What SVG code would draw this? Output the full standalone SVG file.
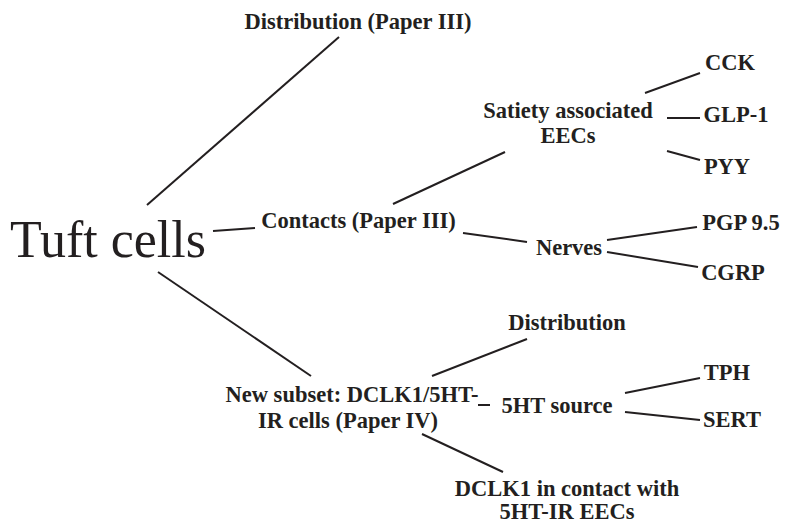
<svg xmlns="http://www.w3.org/2000/svg" width="786" height="525" viewBox="0 0 786 525">
<style>
.t{font-family:"Liberation Serif","Times New Roman",serif;font-weight:bold;font-size:22.5px;fill:#231f20;text-anchor:middle}
.big{font-family:"Liberation Serif","Times New Roman",serif;font-size:52px;fill:#231f20}
.c line{stroke:#231f20;stroke-width:2;stroke-linecap:butt}
</style>
<rect width="786" height="525" fill="#fff"/>
<g class="c" id="connectors">
<line x1="147" y1="205" x2="339" y2="37"/>
<line x1="213" y1="231" x2="255" y2="228"/>
<line x1="158" y1="272" x2="311" y2="376"/>
<line x1="393" y1="204" x2="505" y2="152"/>
<line x1="463" y1="233" x2="527" y2="242"/>
<line x1="645" y1="93" x2="700" y2="73"/>
<line x1="667" y1="118" x2="700" y2="118"/>
<line x1="667" y1="151" x2="700" y2="160"/>
<line x1="607" y1="240" x2="697" y2="227"/>
<line x1="607" y1="252" x2="698" y2="267"/>
<line x1="432" y1="376" x2="527" y2="339"/>
<line x1="478" y1="405" x2="490" y2="405"/>
<line x1="625" y1="393" x2="700" y2="378"/>
<line x1="625" y1="412" x2="700" y2="420"/>
<line x1="422" y1="434" x2="503" y2="472"/>
</g>
<g id="tuft"><text class="big" x="10" y="257">Tuft cells</text></g>
<g id="distribution"><text class="t" x="358" y="29">Distribution (Paper III)</text></g>
<g id="contacts"><text class="t" x="358.5" y="228">Contacts (Paper III)</text></g>
<g id="satiety"><text class="t" x="568" y="118">Satiety associated</text><text class="t" x="568" y="143">EECs</text></g>
<g id="cck"><text class="t" x="730" y="70">CCK</text></g>
<g id="glp1"><text class="t" x="736" y="122">GLP-1</text></g>
<g id="pyy"><text class="t" x="727" y="174">PYY</text></g>
<g id="nerves"><text class="t" x="569" y="255">Nerves</text></g>
<g id="pgp"><text class="t" x="741" y="230">PGP 9.5</text></g>
<g id="cgrp"><text class="t" x="733" y="280">CGRP</text></g>
<g id="newsubset"><text class="t" x="352" y="402">New subset: DCLK1/5HT-</text><text class="t" x="348" y="428">IR cells (Paper IV)</text></g>
<g id="distribution2"><text class="t" x="567" y="330">Distribution</text></g>
<g id="source5ht"><text class="t" x="557" y="413">5HT source</text></g>
<g id="tph"><text class="t" x="727" y="380">TPH</text></g>
<g id="sert"><text class="t" x="732" y="427">SERT</text></g>
<g id="dclk1contact"><text class="t" x="567" y="496">DCLK1 in contact with</text><text class="t" x="567" y="519">5HT-IR EECs</text></g>
</svg>
